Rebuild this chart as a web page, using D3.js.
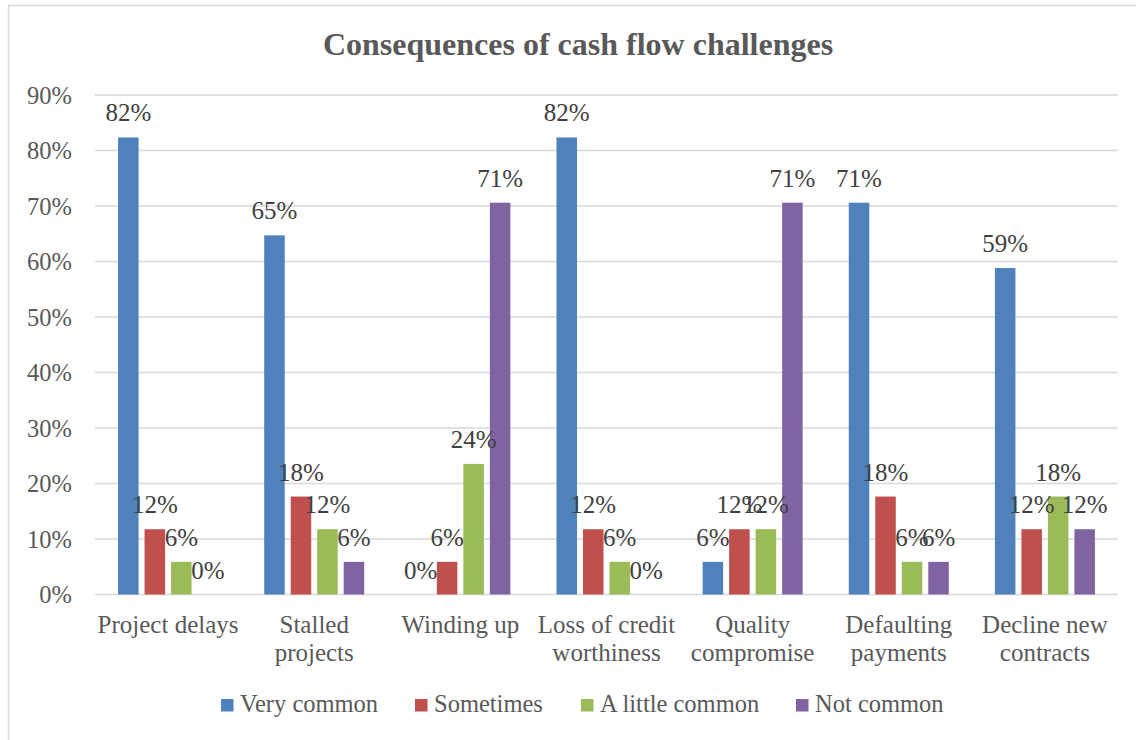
<!DOCTYPE html>
<html>
<head>
<meta charset="utf-8">
<script src="https://cdn.jsdelivr.net/npm/d3@7"></script>
<style>
  html, body { margin: 0; padding: 0; background: #ffffff; }
  svg { display: block; }
</style>
</head>
<body>
<svg id="chart" width="1136" height="740"></svg>
<script>
// Survey responses: share of respondents per consequence and frequency
const categories = [
  ["Project delays"],
  ["Stalled", "projects"],
  ["Winding up"],
  ["Loss of credit", "worthiness"],
  ["Quality", "compromise"],
  ["Defaulting", "payments"],
  ["Decline new", "contracts"]
];
const seriesNames = ["Very common", "Sometimes", "A little common", "Not common"];
const veryCommon    = [0.8235, 0.6471, 0.0,    0.8235, 0.0588, 0.7059, 0.5882];
const sometimes     = [0.1176, 0.1765, 0.0588, 0.1176, 0.1176, 0.1765, 0.1176];
const aLittleCommon = [0.0588, 0.1176, 0.2353, 0.0588, 0.1176, 0.0588, 0.1765];
const notCommon     = [0.0,    0.0588, 0.7059, 0.0,    0.7059, 0.0588, 0.1176];
const yTicks = [0, 0.1, 0.2, 0.3, 0.4, 0.5, 0.6, 0.7, 0.8, 0.9];
const colors = ["#4f81bd", "#c0504d", "#9bbb59", "#8064a2"];

const seriesValues = [veryCommon, sometimes, aLittleCommon, notCommon];
const FONT = "'Liberation Serif', 'Times New Roman', serif";

const svg = d3.select("#chart");
const plot = { left: 95, right: 1118, top: 95, bottom: 594.5 };

// chart frame
svg.append("rect")
  .attr("x", 8.5).attr("y", 5.5)
  .attr("width", 1140).attr("height", 760)
  .attr("fill", "#ffffff")
  .attr("stroke", "#d9d9d9").attr("stroke-width", 1.5);

const x0 = d3.scaleBand()
  .domain(d3.range(categories.length))
  .range([plot.left, plot.right])
  .padding(0);

const x1 = d3.scaleBand()
  .domain(d3.range(seriesNames.length))
  .range([0, x0.bandwidth()])
  .paddingInner(0.226)
  .paddingOuter(0.87);

const y = d3.scaleLinear()
  .domain([0, 0.9])
  .range([plot.bottom, plot.top]);

// gridlines
svg.append("g")
  .selectAll("line")
  .data(yTicks)
  .join("line")
  .attr("x1", plot.left).attr("x2", plot.right)
  .attr("y1", d => y(d)).attr("y2", d => y(d))
  .attr("stroke", "#d9d9d9").attr("stroke-width", 1.5);

// y axis labels
const yAxis = d3.axisLeft(y)
  .tickValues(yTicks)
  .tickFormat(d3.format(".0%"))
  .tickSize(0)
  .tickPadding(0);
const gy = svg.append("g")
  .attr("transform", `translate(72,0)`)
  .call(yAxis);
gy.select(".domain").remove();
gy.selectAll("text")
  .attr("font-family", FONT)
  .attr("font-size", 24.5)
  .attr("fill", "#595959")
  .attr("dy", "0.34em");

// bars
const rows = [];
categories.forEach((c, i) => {
  seriesValues.forEach((vals, s) => rows.push({ i, s, v: vals[i] }));
});

svg.append("g")
  .selectAll("rect")
  .data(rows.filter(d => d.v > 0))
  .join("rect")
  .attr("x", d => x0(d.i) + x1(d.s))
  .attr("width", x1.bandwidth())
  .attr("y", d => y(d.v))
  .attr("height", d => y(0) - y(d.v))
  .attr("fill", d => colors[d.s]);

// value labels
svg.append("g")
  .selectAll("text")
  .data(rows)
  .join("text")
  .attr("x", d => x0(d.i) + x1(d.s) + x1.bandwidth() / 2)
  .attr("y", d => y(d.v) - 16)
  .attr("text-anchor", "middle")
  .attr("font-family", FONT)
  .attr("font-size", 25)
  .attr("fill", "#404040")
  .text(d => d3.format(".0%")(d.v));

// category labels
const cat = svg.append("g")
  .selectAll("text")
  .data(categories)
  .join("text")
  .attr("x", (d, i) => x0(i) + x0.bandwidth() / 2)
  .attr("y", 633)
  .attr("text-anchor", "middle")
  .attr("font-family", FONT)
  .attr("font-size", 25)
  .attr("fill", "#595959");
cat.selectAll("tspan")
  .data(d => d)
  .join("tspan")
  .attr("x", function() { return d3.select(this.parentNode).attr("x"); })
  .attr("dy", (d, k) => k === 0 ? 0 : 28)
  .text(d => d);

// title
svg.append("text")
  .attr("x", 578)
  .attr("y", 55)
  .attr("text-anchor", "middle")
  .attr("font-family", FONT)
  .attr("font-weight", "bold")
  .attr("font-size", 32)
  .attr("fill", "#595959")
  .text("Consequences of cash flow challenges");

// legend
const legendX = [221, 415, 581, 796];
const legend = svg.append("g")
  .selectAll("g")
  .data(seriesNames)
  .join("g")
  .attr("transform", (d, i) => `translate(${legendX[i]},699)`);
legend.append("rect")
  .attr("width", 12.5).attr("height", 12.5)
  .attr("fill", (d, i) => colors[i]);
legend.append("text")
  .attr("x", 19)
  .attr("y", 13)
  .attr("font-family", FONT)
  .attr("font-size", 24.5)
  .attr("fill", "#595959")
  .text(d => d);
</script>
</body>
</html>
